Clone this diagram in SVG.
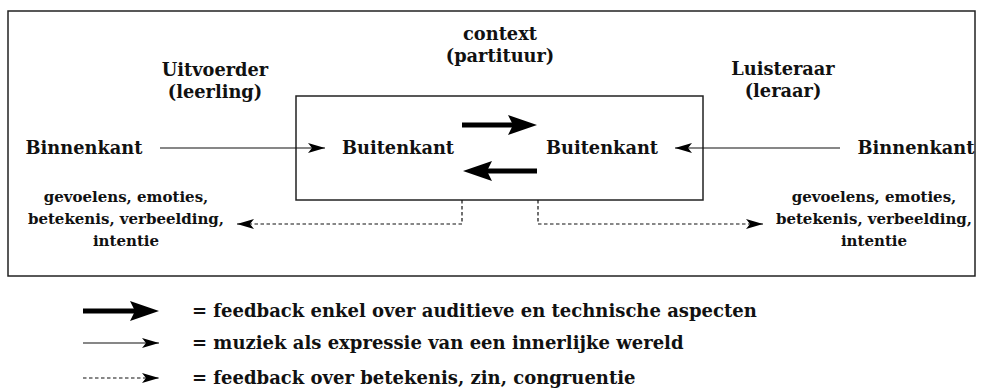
<svg xmlns="http://www.w3.org/2000/svg" width="982" height="389" viewBox="0 0 982 389">
<style>
text{font-family:"DejaVu Serif","Liberation Serif",serif;font-weight:bold;fill:#111}
.lbl{font-size:17.8px;text-anchor:middle}
.sm{font-size:15px;text-anchor:middle}
.leg{font-size:18px}
.box{fill:#fff;stroke:#222;stroke-width:1.5}
.thin{stroke:#111;stroke-width:1.2;fill:none}
.dash{stroke:#111;stroke-width:1.2;fill:none;stroke-dasharray:3.5 2.5}
.thick{stroke:#000;stroke-width:5;fill:none}
</style>
<defs>
<marker id="hThin" viewBox="0 0 17 10" refX="17" refY="5" markerWidth="17" markerHeight="10" markerUnits="userSpaceOnUse" orient="auto">
<path d="M0,0 L17,5 L0,10 L4,5 Z" fill="#000"/>
</marker>
<marker id="hThick" viewBox="0 0 29 20" refX="8" refY="10" markerWidth="29" markerHeight="20" markerUnits="userSpaceOnUse" orient="auto">
<path d="M0,0 L29,10 L0,20 L5,10 Z" fill="#000"/>
</marker>
</defs>
<rect width="982" height="389" fill="#fff"/>
<g id="frame"><rect class="box" x="8" y="11" width="967" height="265"/></g>
<g id="context-box"><rect class="box" x="296" y="96" width="407" height="104"/>
<text class="lbl" x="500" y="40">context</text>
<text class="lbl" x="500" y="62">(partituur)</text></g>
<g id="uitvoerder"><text class="lbl" x="215" y="76">Uitvoerder</text><text class="lbl" x="215" y="98">(leerling)</text></g>
<g id="luisteraar"><text class="lbl" x="783" y="75">Luisteraar</text><text class="lbl" x="783" y="97">(leraar)</text></g>
<g id="binnenkant-left"><text class="lbl" x="84" y="154">Binnenkant</text></g>
<g id="binnenkant-right"><text class="lbl" x="916" y="154">Binnenkant</text></g>
<g id="buitenkant-left"><text class="lbl" x="398" y="154">Buitenkant</text></g>
<g id="buitenkant-right"><text class="lbl" x="602" y="154">Buitenkant</text></g>
<g id="betekenis-left"><text class="sm" x="126" y="202">gevoelens, emoties,</text><text class="sm" x="126" y="224">betekenis, verbeelding,</text><text class="sm" x="126" y="246">intentie</text></g>
<g id="betekenis-right"><text class="sm" x="874" y="202">gevoelens, emoties,</text><text class="sm" x="874" y="224">betekenis, verbeelding,</text><text class="sm" x="874" y="246">intentie</text></g>
<g id="connectors">
<line class="thin" x1="160" y1="148" x2="325" y2="148" marker-end="url(#hThin)"/>
<line class="thin" x1="840" y1="148" x2="675" y2="148" marker-end="url(#hThin)"/>
<line class="thick" x1="462" y1="125" x2="516" y2="125" marker-end="url(#hThick)"/>
<line class="thick" x1="537" y1="171" x2="484" y2="171" marker-end="url(#hThick)"/>
<polyline class="dash" points="462,200 462,224 237,224" marker-end="url(#hThin)"/>
<polyline class="dash" points="538,200 538,224 763,224" marker-end="url(#hThin)"/>
</g>
<g id="legend">
<line class="thick" x1="83" y1="311" x2="138" y2="311" marker-end="url(#hThick)"/>
<line class="thin" x1="83" y1="343" x2="159" y2="343" marker-end="url(#hThin)"/>
<line class="dash" x1="83" y1="378" x2="159" y2="378" marker-end="url(#hThin)"/>
<text class="leg" x="192" y="317">= feedback enkel over auditieve en technische aspecten</text>
<text class="leg" x="192" y="349">= muziek als expressie van een innerlijke wereld</text>
<text class="leg" x="192" y="384">= feedback over betekenis, zin, congruentie</text>
</g>
</svg>
